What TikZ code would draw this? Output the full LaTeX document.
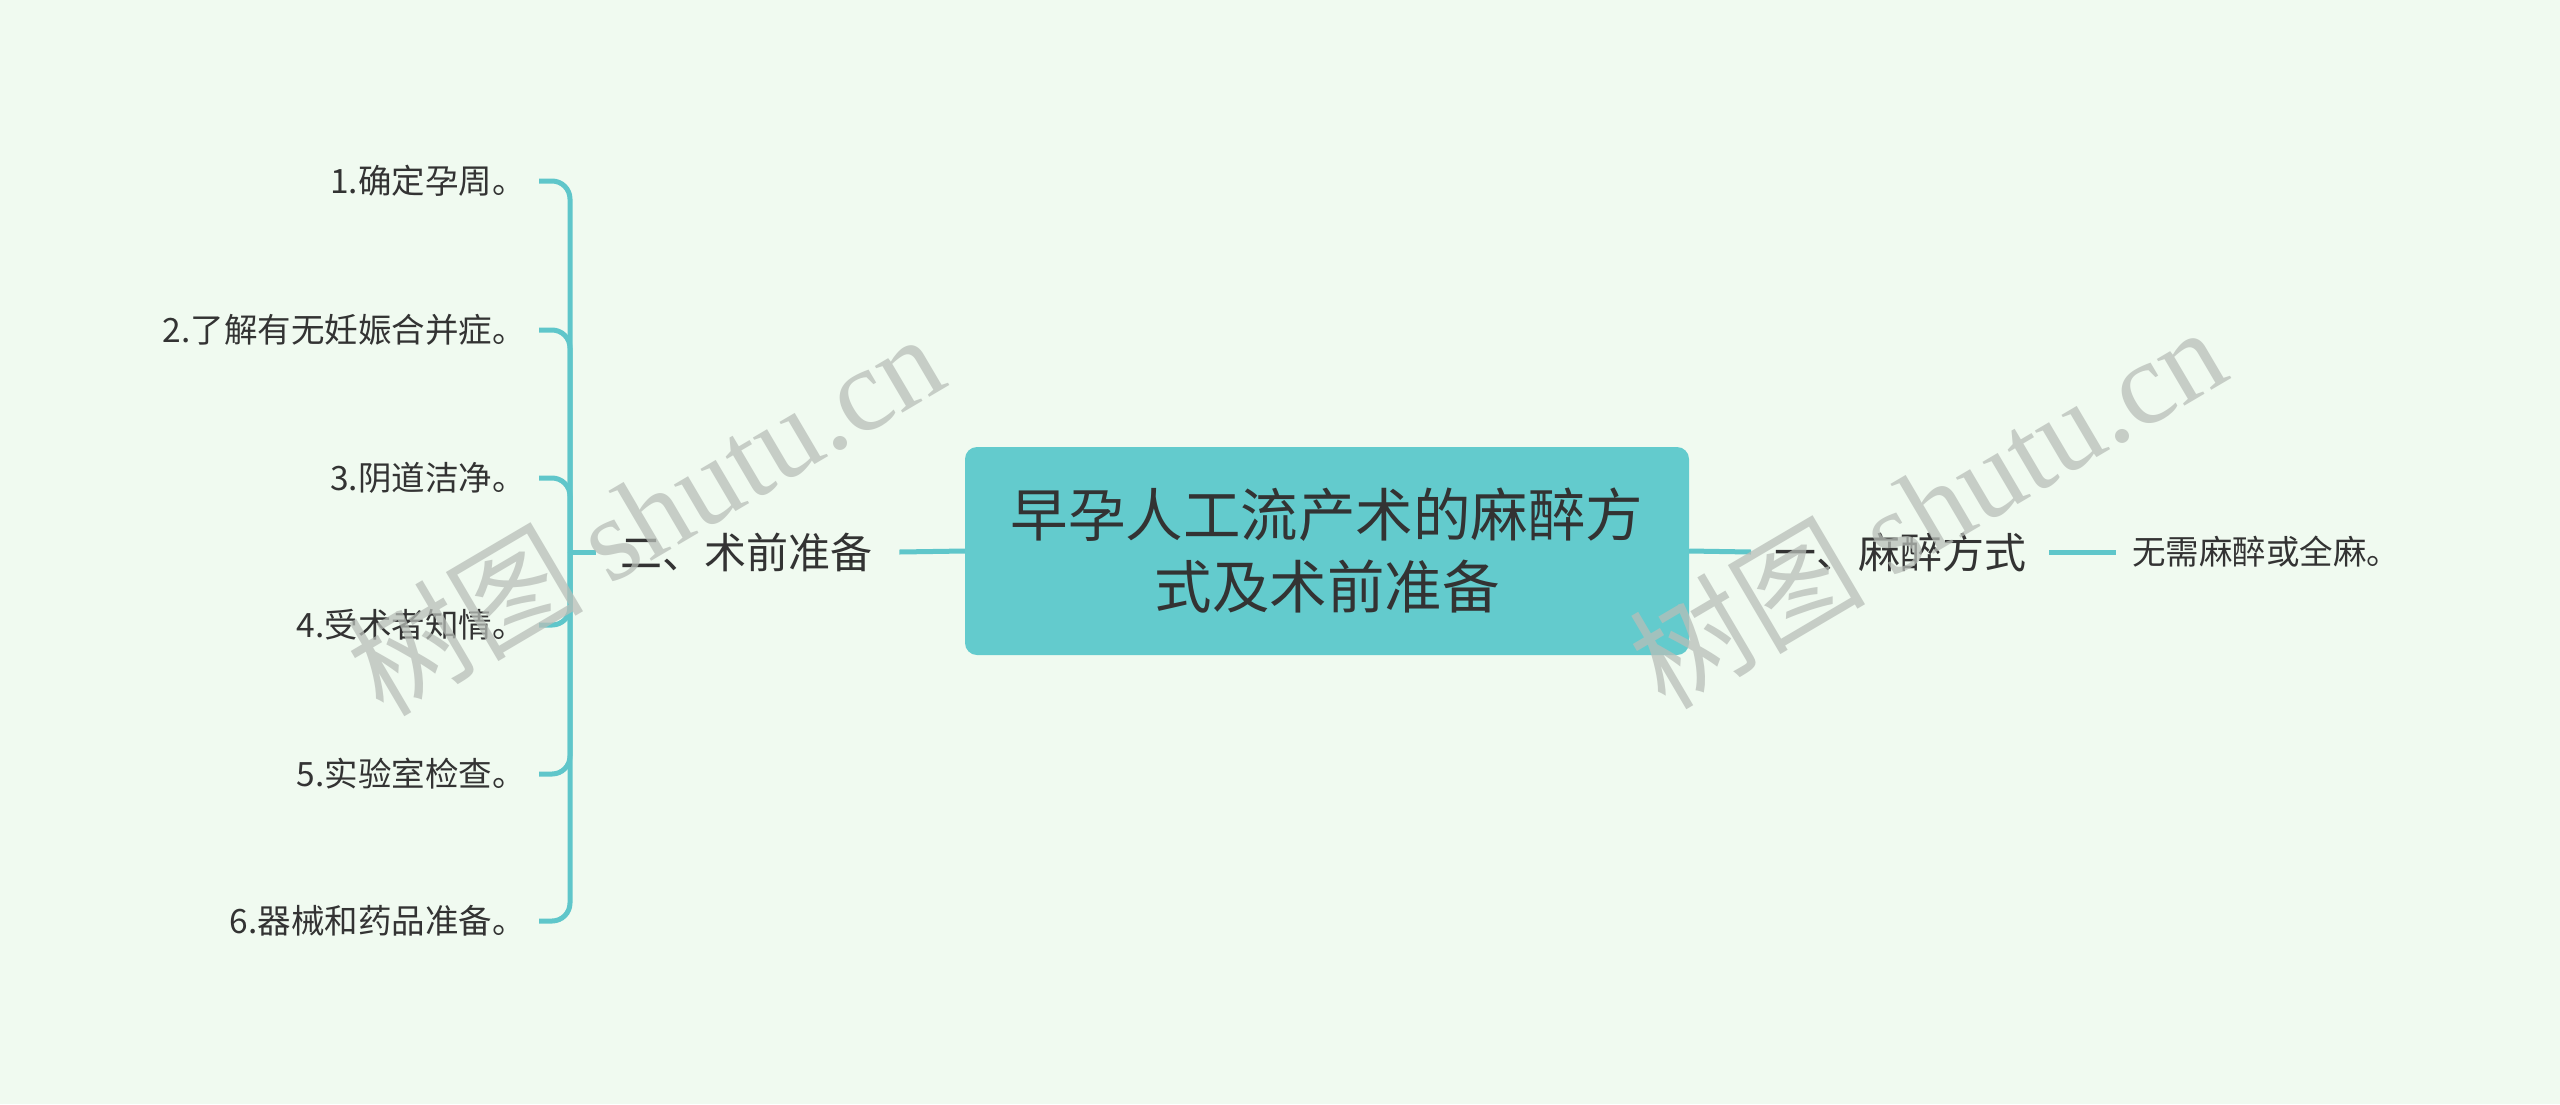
\documentclass[tikz,border=0pt]{standalone}
\usepackage{fontspec}
\setmainfont{Noto Sans CJK SC}
\newfontfamily\cjkfont{Noto Sans CJK SC}
\newfontfamily\wmserif{Liberation Serif}
\definecolor{bgc}{HTML}{F0FAF0}
\definecolor{tealc}{HTML}{63CBCD}
\definecolor{linec}{HTML}{5FC6CA}
\definecolor{txtc}{HTML}{333333}
\definecolor{wmc}{HTML}{B8BEB8}
\tikzset{
  conn/.style={draw=linec, line width=5pt},
  rootbox/.style={fill=tealc, rounded corners=12pt, minimum width=724pt, minimum height=208pt,
    align=center, text=txtc, font=\fontsize{57.5pt}{72pt}\selectfont, inner sep=0pt},
  mainlabel/.style={text=txtc, font=\fontsize{42pt}{50pt}\selectfont, inner sep=0pt},
  leaflabel/.style={text=txtc, font=\fontsize{33.5pt}{40pt}\selectfont, inner sep=0pt},
  wmark/.style={text=wmc, opacity=0.75, rotate=30.5, inner sep=0pt}
}
\begin{document}
\begin{tikzpicture}[x=1pt,y=-1pt]
\useasboundingbox (0,0) rectangle (2560,1104);
\fill[bgc] (0,0) rectangle (2560,1104);

% root
\node[rootbox] (root) at (1327,551) {早孕人工流产术的麻醉方\\式及术前准备};

% main branches
\node[mainlabel, anchor=west] (m2) at (620,552) {二、术前准备};
\node[mainlabel, anchor=west] (m1) at (1774,552) {一、麻醉方式};

% right leaf
\node[leaflabel, anchor=west] (r1) at (2132,552) {无需麻醉或全麻。};

% left leaves
\node[leaflabel, anchor=east] (l1) at (526,181) {1.确定孕周。};
\node[leaflabel, anchor=east] (l2) at (526,330) {2.了解有无妊娠合并症。};
\node[leaflabel, anchor=east] (l3) at (526,478) {3.阴道洁净。};
\node[leaflabel, anchor=east] (l4) at (526,625) {4.受术者知情。};
\node[leaflabel, anchor=east] (l5) at (526,774) {5.实验室检查。};
\node[leaflabel, anchor=east] (l6) at (526,921) {6.器械和药品准备。};

\coordinate (bk) at (570,552);

% connectors
\draw[conn] (root.west) -- ([xshift=27pt]m2.east);
\draw[conn] (root.east) -- ([xshift=-23pt]m1.west);
\draw[conn] ([xshift=23pt]m1.east) -- ([xshift=-16pt]r1.west);
\draw[conn] (bk) -- ([xshift=-24pt]m2.west);
\foreach \n in {l1,l2,l3,l4,l5,l6}{
  \draw[conn, rounded corners=18pt] (bk) |- ([xshift=13pt]\n.east);
}

% watermarks
\node[wmark] (w1) at (645,513) {\fontsize{118pt}{130pt}\selectfont\cjkfont 树图 \wmserif shutu.cn};
\node[wmark] (w2) at (1927,506) {\fontsize{118pt}{130pt}\selectfont\cjkfont 树图 \wmserif shutu.cn};
\end{tikzpicture}
\end{document}
